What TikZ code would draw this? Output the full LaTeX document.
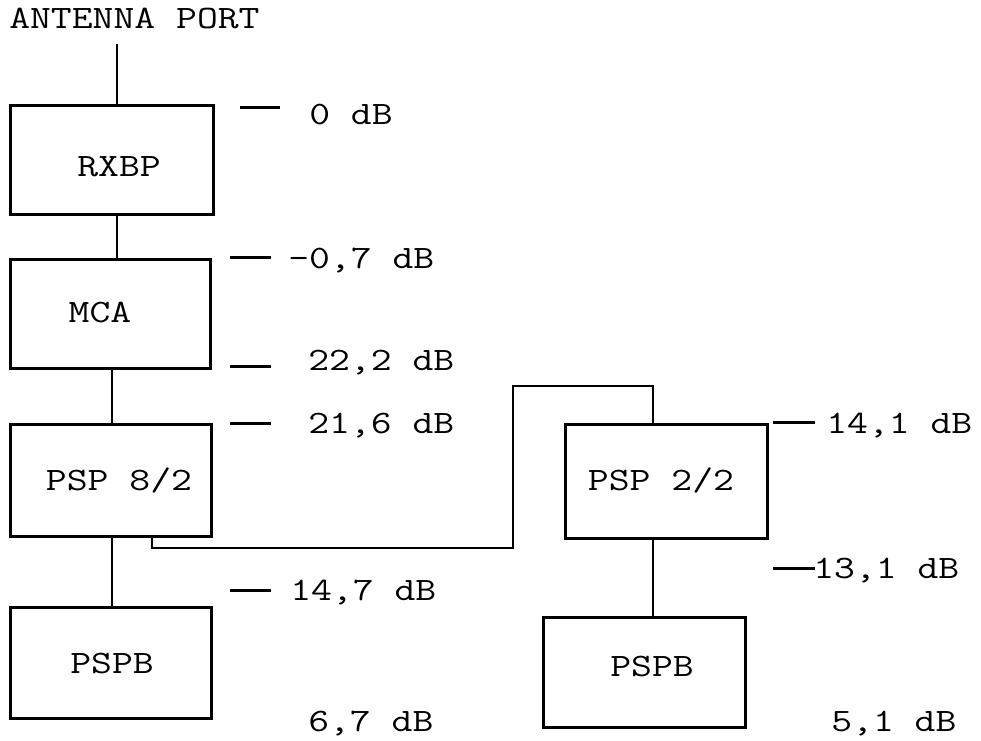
\documentclass[tikz,border=0pt]{standalone}
\usepackage{fontspec}
\usepackage{graphicx}
\newcommand{\mytxt}[1]{\scalebox{1.24}[1]{#1}}
\begin{document}
\begin{tikzpicture}[x=0.75pt,y=-0.75pt,
  box/.style={draw,line width=2.25pt,rectangle,inner sep=0pt},
  txt/.style={inner sep=0pt,font=\ttfamily\fontsize{24.5}{28}\selectfont},
  wire/.style={line width=2.1pt},
  tick/.style={line width=2.25pt}]
\useasboundingbox (0,0) rectangle (981,740);
% boxes
\node[box,minimum width=203*0.75pt,minimum height=109*0.75pt] (rxbp) at (111.5,159.5) {};
\node[box,minimum width=200*0.75pt,minimum height=109*0.75pt] (mca) at (110,313.5) {};
\node[box,minimum width=201*0.75pt,minimum height=112*0.75pt] (psp8) at (110.5,480) {};
\node[box,minimum width=201*0.75pt,minimum height=111*0.75pt] (pspbl) at (110.5,662.5) {};
\node[box,minimum width=202*0.75pt,minimum height=114*0.75pt] (psp2) at (666,481) {};
\node[box,minimum width=202*0.75pt,minimum height=110*0.75pt] (pspbr) at (644,672) {};
% texts
\node[txt,anchor=base west] (ant) at (9,28) {\mytxt{ANTENNA PORT}};
\node[txt,anchor=base] (trxbp) at (119,176) {\mytxt{RXBP}};
\node[txt,anchor=base] (tmca) at (100,322) {\mytxt{MCA}};
\node[txt,anchor=base] (tpsp8) at (119,490) {\mytxt{PSP 8/2}};
\node[txt,anchor=base] (tpspbl) at (112,673) {\mytxt{PSPB}};
\node[txt,anchor=base] (tpsp2) at (661,490) {\mytxt{PSP 2/2}};
\node[txt,anchor=base] (tpspbr) at (652,676) {\mytxt{PSPB}};
\node[txt,anchor=base west] (l1) at (309,124) {\mytxt{0 dB}};
\node[txt,anchor=base west] (l2) at (288,268) {\mytxt{\char"2013 0,7 dB}};
\node[txt,anchor=base west] (l3) at (308,370) {\mytxt{22,2 dB}};
\node[txt,anchor=base west] (l4) at (308,433) {\mytxt{21,6 dB}};
\node[txt,anchor=base west] (l5) at (290,600) {\mytxt{14,7 dB}};
\node[txt,anchor=base west] (l6) at (308,731) {\mytxt{6,7 dB}};
\node[txt,anchor=base west] (l7) at (826,433) {\mytxt{14,1 dB}};
\node[txt,anchor=base west] (l8) at (813,578) {\mytxt{13,1 dB}};
\node[txt,anchor=base west] (l9) at (831,731) {\mytxt{5,1 dB}};
% tick marks
\draw[tick] (240,107) -- (280,107);
\draw[tick] (230,257) -- (271,257);
\draw[tick] (230,366) -- (271,366);
\draw[tick] (230,423) -- (271,423);
\draw[tick] (230,590) -- (271,590);
\draw[tick] (773,422) -- (815,422);
\draw[tick] (773,568) -- (815,568);
% connectors
\coordinate (antend) at (117,44);
\draw[wire] (antend) -- (antend |- rxbp.north);
\draw[wire] (rxbp.south -| antend) -- (mca.north -| antend);
\coordinate (c1) at (112,0);
\draw[wire] (mca.south -| c1) -- (psp8.north -| c1);
\draw[wire] (psp8.south -| c1) -- (pspbl.north -| c1);
\coordinate (c2) at (152,548);
\coordinate (c3) at (513,386);
\coordinate (c4) at (653,0);
\draw[wire] (psp8.south -| c2) -- (c2) -| (c3) -| (psp2.north -| c4);
\draw[wire] (psp2.south -| c4) -- (pspbr.north -| c4);
\end{tikzpicture}
\end{document}
